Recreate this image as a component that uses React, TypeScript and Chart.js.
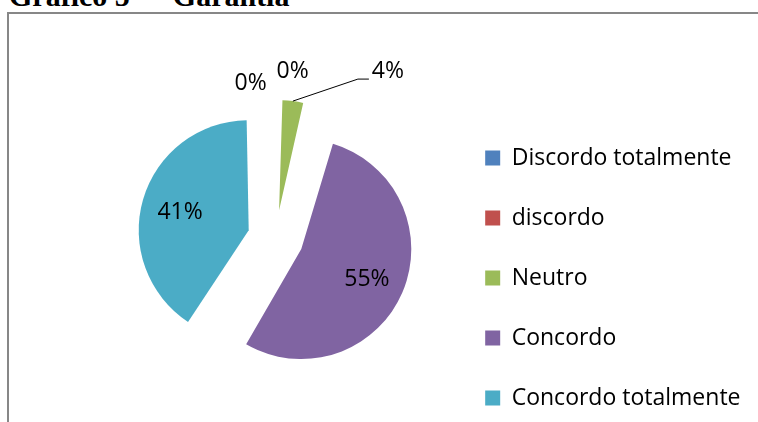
import React, { useEffect, useRef } from 'react';
import { Chart, registerables } from 'chart.js';

Chart.register(...registerables);

// ---- data ----
const categories = ['Discordo totalmente', 'discordo', 'Neutro', 'Concordo', 'Concordo totalmente'];
const values = [0, 0, 4, 55, 41];
const colors = ['#4F81BD', '#C0504D', '#9BBB59', '#8064A2', '#4BACC6'];
const titleStart = 'Gráfico 5';
const titleDash = '–';
const titleEnd = 'Garantia';

// ---- style ----
const FONT = '"Open Sans"';
const FONT_SIZE = 23;
const EXPLODE = 28; // visual shift of each slice in px
const RADIUS = 110;
const INSIDE_RATIO = 0.65;
// outside label nudges relative to the slice's outer edge (for small slices)
const outsideNudge: ([number, number] | null)[] = [[-25, -18.5], [17, -30], [95, -31], null, null];
const leaderBends: ([number, number][] | null)[] = [null, null, [[65, -22], [76, -22]], null, null];

const CANVAS_W = 749;
const CANVAS_H = 440;
const PAD = { left: 94, right: 7.5, top: 15.5, bottom: 7.5 };

const explodeFix = {
  id: 'explodeFix',
  afterDatasetUpdate(chart: any, args: any) {
    const meta = chart.getDatasetMeta(args.index);
    meta.data.forEach((arc: any) => {
      const circ = arc.circumference || 0;
      const fix = 1 - Math.sin(Math.min(Math.PI, circ));
      arc.outerRadius = RADIUS - EXPLODE * fix;
    });
  },
};

const pieLabels = {
  id: 'pieLabels',
  afterDatasetsDraw(chart: any) {
    const ctx = chart.ctx;
    const meta = chart.getDatasetMeta(0);
    const total = values.reduce((a, b) => a + b, 0);
    ctx.save();
    ctx.font = `${FONT_SIZE}px ${FONT}`;
    ctx.fillStyle = '#000';
    ctx.strokeStyle = '#000';
    ctx.lineWidth = 1;
    ctx.textAlign = 'center';
    ctx.textBaseline = 'alphabetic';
    const capHalf = FONT_SIZE * 0.72 / 2;
    meta.data.forEach((arc: any, i: number) => {
      const { x, y, startAngle, endAngle } = arc;
      const mid = (startAngle + endAngle) / 2;
      const cx = x + Math.cos(mid) * EXPLODE;
      const cy = y + Math.sin(mid) * EXPLODE;
      const text = Math.round((values[i] / total) * 100) + '%';
      let lx: number;
      let ly: number;
      const nudge = outsideNudge[i];
      if (nudge) {
        const ax = cx + Math.cos(mid) * RADIUS;
        const ay = cy + Math.sin(mid) * RADIUS;
        const bends = leaderBends[i];
        if (bends) {
          ctx.beginPath();
          ctx.moveTo(ax, ay);
          bends.forEach(([dx, dy]) => ctx.lineTo(ax + dx, ay + dy));
          ctx.stroke();
        }
        lx = ax + nudge[0];
        ly = ay + nudge[1];
      } else {
        lx = cx + Math.cos(mid) * INSIDE_RATIO * RADIUS;
        ly = cy + Math.sin(mid) * INSIDE_RATIO * RADIUS;
      }
      ctx.fillText(text, lx, ly + capHalf);
    });
    ctx.restore();
  },
};

export default function App() {
  const canvasRef = useRef<HTMLCanvasElement | null>(null);

  useEffect(() => {
    if (!canvasRef.current) return;
    const chart = new Chart(canvasRef.current, {
      type: 'pie',
      data: {
        labels: categories,
        datasets: [
          {
            data: values,
            backgroundColor: colors,
            borderWidth: 0,
            offset: EXPLODE * 4,
            hoverOffset: 0,
            radius: RADIUS,
          } as any,
        ],
      },
      options: {
        responsive: false,
        animation: false,
        events: [],
        layout: { padding: PAD },
        plugins: {
          legend: {
            position: 'right',
            align: 'end',
            labels: {
              boxWidth: 15,
              boxHeight: 15,
              padding: 60 - FONT_SIZE,
              color: '#000',
              font: { family: FONT, size: FONT_SIZE },
            },
          },
          tooltip: { enabled: false },
          title: { display: false },
        },
      } as any,
      plugins: [explodeFix, pieLabels],
    });
    return () => chart.destroy();
  }, []);

  return (
    <div style={{ position: 'fixed', left: 0, top: 0, width: 758, height: 422, overflow: 'hidden', background: '#fff' }}>
      <div
        style={{
          position: 'absolute',
          left: 9,
          top: -19,
          fontFamily: '"Liberation Serif", serif',
          fontWeight: 'bold',
          fontSize: 30,
          lineHeight: '30px',
          whiteSpace: 'nowrap',
          color: '#000',
        }}
      >
        {titleStart}
        <span style={{ margin: '0 14px' }}>{titleDash}</span>
        {titleEnd}
      </div>
      <div
        style={{
          position: 'absolute',
          left: 7,
          top: 12,
          width: 751,
          height: 410,
          boxSizing: 'border-box',
          borderLeft: '2px solid #878787',
          borderTop: '2px solid #878787',
        }}
      />
      <canvas
        ref={canvasRef}
        width={CANVAS_W}
        height={CANVAS_H}
        style={{ position: 'absolute', left: 9, top: 14, width: CANVAS_W, height: CANVAS_H }}
      />
    </div>
  );
}
